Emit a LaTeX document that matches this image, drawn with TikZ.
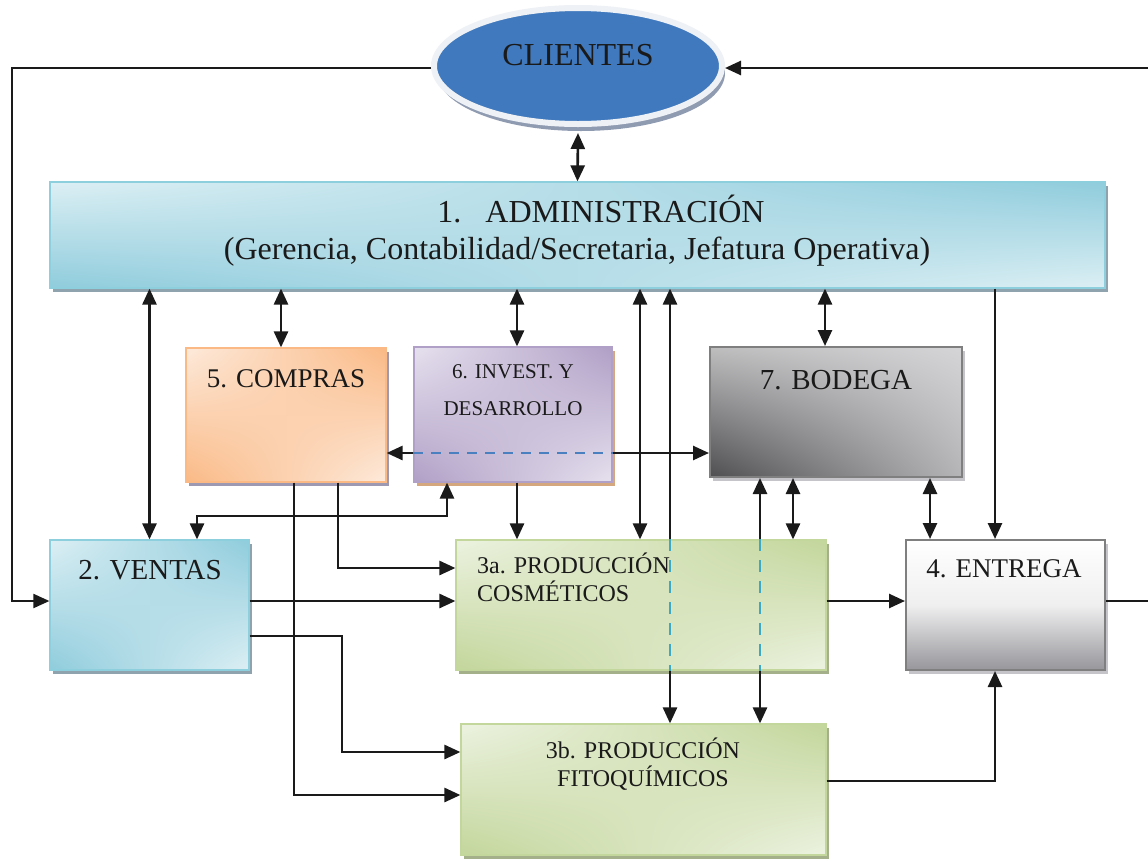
\documentclass[tikz,border=0pt]{standalone}
\usepackage{fontspec}
\setmainfont{Liberation Serif}
\usetikzlibrary{arrows.meta,positioning,shapes.geometric,shadows,shadings}

\definecolor{azulcli}{HTML}{4079BD}
\definecolor{bordecli}{HTML}{EEF1F5}
\definecolor{sombracli}{HTML}{8F9BB1}
\definecolor{celclaro}{HTML}{DCEFF4}
\definecolor{celoscuro}{HTML}{8FCCDC}
\definecolor{bordecel}{HTML}{8ECFDE}
\definecolor{sombracel}{HTML}{8FA3AE}
\definecolor{naranja}{HTML}{FAB985}
\definecolor{naranjaclaro}{HTML}{FDEADB}
\definecolor{sombranar}{HTML}{9E99B2}
\definecolor{morado}{HTML}{B09FC6}
\definecolor{moradoclaro}{HTML}{E6E1EE}
\definecolor{sombramor}{HTML}{D5A77E}
\definecolor{verde}{HTML}{C3D69B}
\definecolor{verdeclaro}{HTML}{ECF2E0}
\definecolor{sombraver}{HTML}{A3B089}
\definecolor{grisborde}{HTML}{7F7F7F}
\definecolor{grissombra}{HTML}{C4C4C9}
\definecolor{grisent}{HTML}{96969B}
\definecolor{gris1}{HTML}{BEBEBF}
\definecolor{gris2}{HTML}{D5D5D7}
\definecolor{gris3}{HTML}{4F4F52}
\definecolor{gris4}{HTML}{B5B5B8}
\definecolor{guioncian}{HTML}{3FA9C4}
\definecolor{guionazul}{HTML}{4A7FC0}
\definecolor{tinta}{HTML}{1A1A1A}

\begin{document}
\begin{tikzpicture}[x=1pt, y=-1pt,
  caja/.style={rectangle, draw=#1, line width=1.2pt, inner sep=0pt},
  sombra/.style={drop shadow={shadow xshift=3pt, shadow yshift=-4pt, opacity=1, fill=#1}},
  degradado/.style 2 args={upper left=#1, upper right=#2, lower left=#2, lower right=#1},
  texto/.style={anchor=base, inner sep=0pt, text=tinta, font=\fontsize{#1}{#1}\selectfont},
  textoizq/.style={anchor=base west, inner sep=0pt, text=tinta, font=\fontsize{#1}{#1}\selectfont},
  flecha/.style={tinta, -{Triangle[length=16pt,width=14pt]}, line width=2.6pt},
  dflecha/.style={tinta, {Triangle[length=16pt,width=14pt]}-{Triangle[length=16pt,width=14pt]}, line width=2.6pt},
  punteado/.style={guioncian, line width=2.2pt, dash pattern=on 12pt off 9pt},
  guiones/.style={guionazul, line width=2.6pt, dash pattern=on 10pt off 8pt}]

\useasboundingbox (0,0) rectangle (1148,860);
\fill[white] (0,0) rectangle (1148,860);
\clip (0,0) rectangle (1148,860);

% Boxes
\node[ellipse, draw=bordecli, line width=6pt, fill=azulcli,
  drop shadow={shadow xshift=3pt, shadow yshift=-7pt, opacity=1, fill=sombracli},
  minimum width=288, minimum height=116] (clientes) at (578,66) {};

\node[caja=bordecel, degradado={celclaro}{celoscuro}, sombra=sombracel,
  minimum width=1055, minimum height=106] (admin) at (577.5,235) {};

\node[caja=naranja, degradado={naranjaclaro}{naranja}, sombra=sombranar,
  minimum width=200, minimum height=134] (compras) at (286,415) {};
\node[caja=morado, degradado={moradoclaro}{morado}, sombra=sombramor,
  minimum width=198, minimum height=135] (invest) at (513,414.5) {};
\node[caja=grisborde, line width=2pt, upper left=gris1, upper right=gris2,
  lower left=gris3, lower right=gris4, sombra=grissombra,
  minimum width=252, minimum height=130] (bodega) at (836,412) {};

\node[caja=bordecel, degradado={celclaro}{celoscuro}, sombra=sombracel,
  minimum width=199, minimum height=130] (ventas) at (149.5,605) {};
\node[caja=verde, degradado={verdeclaro}{verde}, sombra=sombraver,
  minimum width=370, minimum height=130] (prod3a) at (641,605) {};
\node[caja=grisborde, line width=2pt, top color=white, bottom color=grisent,
  middle color=white!85!grisent, sombra=grissombra,
  minimum width=199, minimum height=130] (entrega) at (1005.5,605) {};
\node[caja=verde, degradado={verdeclaro}{verde}, sombra=sombraver,
  minimum width=365, minimum height=131] (prod3b) at (643.5,789.5) {};

% Texts
\node[texto=32] (t-cli) at (578,65) {CLIENTES};
\node[texto=32] (t-adm1) at (601,222) {1.\hspace{0.75em}ADMINISTRACIÓN};
\node[texto=32] (t-adm2) at (577,259) {(Gerencia, Contabilidad/Secretaria, Jefatura Operativa)};
\node[texto=27] (t-com) at (286,387) {5. COMPRAS};
\node[texto=21] (t-inv1) at (513,378) {6. INVEST. Y};
\node[texto=21] (t-inv2) at (513,415) {DESARROLLO};
\node[texto=29] (t-bod) at (836,389) {7. BODEGA};
\node[texto=29] (t-ven) at (150,579) {2. VENTAS};
\node[textoizq=24] (t-p3a1) at (477,573) {3a. PRODUCCIÓN};
\node[textoizq=24] (t-p3a2) at (477,601) {COSMÉTICOS};
\node[texto=27] (t-ent) at (1004,577) {4. ENTREGA};
\node[texto=24] (t-p3b1) at (643,758) {3b. PRODUCCIÓN};
\node[texto=24] (t-p3b2) at (643,786) {FITOQUÍMICOS};

% Axes for the connectors
\coordinate (e-com) at (281,0);
\coordinate (e-inv) at (517,0);
\coordinate (e-p3a) at (640,0);
\coordinate (e-p3b) at (670,0);
\coordinate (e-b3b) at (760,0);
\coordinate (e-b3a) at (793,0);
\coordinate (e-bod) at (825,0);
\coordinate (e-bent) at (930,0);
\coordinate (e-ent) at (995,0);
\coordinate (e-iv) at (447,0);
\coordinate (e-c3a) at (338,0);
\coordinate (e-c3b) at (294,0);
\coordinate (codo-iv) at (197,516);
\coordinate (codo-v3b) at (342,636);
\coordinate (izq) at (12,601);
\coordinate (h-cli) at (0,68);
\coordinate (h-med) at (0,601);
\coordinate (h-cb) at (0,453);
\coordinate (h-c3a) at (0,568);
\coordinate (h-c3b) at (0,795);
\coordinate (h-v3b) at (0,752);
\coordinate (h-p3b) at (0,781);

% Arrows
\draw[dflecha] ([yshift=-6pt]clientes.south) -- (admin.north);
\draw[flecha, line width=2pt] (clientes.west |- h-cli) -| (izq) -- (ventas.west |- h-med);
\draw[flecha] (entrega.east |- h-med) -- ++(60,0) |- (clientes.east |- h-cli);

\draw[dflecha] (admin.south -| ventas.north) -- (ventas.north);
\draw[dflecha] (admin.south -| e-com) -- (compras.north -| e-com);
\draw[dflecha] (admin.south -| e-inv) -- (invest.north -| e-inv);
\draw[dflecha] (admin.south -| e-p3a) -- (prod3a.north -| e-p3a);
\draw[flecha] (prod3a.north -| e-p3b) -- (admin.south -| e-p3b);
\draw[punteado] (prod3a.north -| e-p3b) -- (prod3a.south -| e-p3b);
\draw[flecha] (prod3a.south -| e-p3b) -- (prod3b.north -| e-p3b);
\draw[dflecha] (admin.south -| e-bod) -- (bodega.north -| e-bod);
\draw[flecha] (admin.south -| e-ent) -- (entrega.north -| e-ent);

\draw[flecha] (invest.west |- h-cb) -- (compras.east |- h-cb);
\draw[guiones] (invest.west |- h-cb) -- (invest.east |- h-cb);
\draw[flecha] (invest.east |- h-cb) -- (bodega.west |- h-cb);

\draw[flecha] (invest.south -| e-inv) -- (prod3a.north -| e-inv);
\draw[dflecha] (invest.south -| e-iv) |- (codo-iv) -- (ventas.north -| codo-iv);
\draw[flecha] (compras.south -| e-c3a) |- (prod3a.west |- h-c3a);
\draw[flecha] (compras.south -| e-c3b) |- (prod3b.west |- h-c3b);

\draw[flecha] (prod3a.north -| e-b3b) -- (bodega.south -| e-b3b);
\draw[punteado] (prod3a.north -| e-b3b) -- (prod3a.south -| e-b3b);
\draw[flecha] (prod3a.south -| e-b3b) -- (prod3b.north -| e-b3b);
\draw[dflecha] (bodega.south -| e-b3a) -- (prod3a.north -| e-b3a);
\draw[dflecha] (bodega.south -| e-bent) -- (entrega.north -| e-bent);

\draw[flecha] (ventas.east |- h-med) -- (prod3a.west |- h-med);
\draw[flecha] (ventas.east |- codo-v3b) -- (codo-v3b) |- (prod3b.west |- h-v3b);
\draw[flecha] (prod3a.east |- h-med) -- (entrega.west |- h-med);
\draw[flecha] (prod3b.east |- h-p3b) -| (entrega.south -| e-ent);

\end{tikzpicture}
\end{document}
